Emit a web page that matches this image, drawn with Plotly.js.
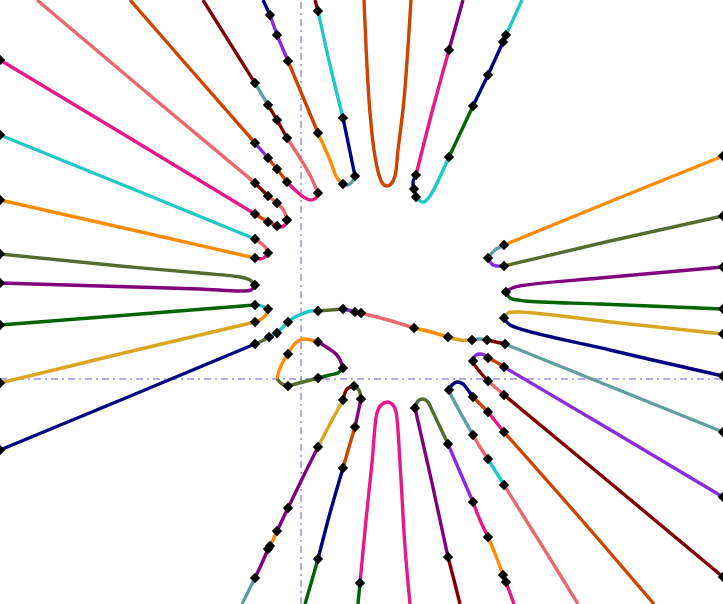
<!DOCTYPE html>
<html><head><meta charset="utf-8">
<script src="https://cdn.plot.ly/plotly-3.0.1.min.js"></script>
<style>html,body{margin:0;padding:0;background:#fff;overflow:hidden}#chart{width:723px;height:604px}</style>
</head><body><div id="chart"></div>
<script>
// Branch data: each branch is a list of coloured pieces (x list, y list, colour name)
const A_x = [[-301,-181,-101,-61,-51,-46],[-46,-50,-61,-101,-201,-301]];
const A_y = [[125,113,106,102,99,94],[94,89,88,90,93,96]];
const A_c = ['olive','purple'];

const B_x = [[-301,-173,-46],[-46,-39,-35,-33],[-33,-36,-41,-46],[-46,-173,-301]];
const B_y = [[244,192,140],[140,135,131,126],[126,122,120,121],[121,150,179]];
const B_c = ['cyan','salmon','pink','orange'];

const C_x = [[-264,-155,-46],[-46,-33],[-33,-24],[-24,-17,-14],[-14,-16,-20,-24],[-24,-33],[-33,-46],[-46,-173,-301]];
const C_y = [[379,287,196],[196,183],[183,176],[176,168,159],[159,154,152,153],[153,157],[157,165],[165,242,319]];
const C_c = ['salmon','maroon','salmon','salmon','pink','rust','rust','pink'];

const D_x = [[-171,-109,-46],[-46,-33],[-33,-24],[-24,-14],[-14,-6,1,9,15,17],[17,9,-1,-14],[-14,-24],[-24,-33],[-33,-46],[-46,-98]];
const D_y = [[379,308,236],[236,221],[221,210],[210,197],[197,189,183,179,181,186],[186,204,221,241],[241,259],[259,274],[274,296],[296,379]];
const D_c = ['rust','violet','rust','rust','pink','salmon','maroon','maroon','cadet','maroon'];

const E_x = [[-38,-31],[-31,-24],[-24,-13],[-13,2,17],[17,29,36,42],[42,47,51,54],[54,48,42],[42,29,17],[17,14]];
const E_y = [[379,364],[364,344],[344,318],[318,282,246],[246,219,201,195],[195,194,197,203],[203,232,261],[261,314,368],[368,379]];
const E_c = ['navy','violet','violet','rust','orange','cadet','navy','cyan','maroon'];

const F_x = [[63,68,73,78,82,86,90,94,97,103,110]];
const F_y = [[379,279,229,204,195,193,195,203,229,279,379]];
const F_c = ['rust'];

const G_x = [[162,148],[148,131,115],[115,112,113],[113,115],[115,119,123,129,148],[148,172],[172,187],[187,202],[202,205],[205,221]];
const G_y = [[379,329],[329,267,204],[204,197,190],[190,182],[182,178,177,183,222],[222,273],[273,304],[304,337],[337,344],[344,379]];
const G_c = ['purple','pink','navy','cadet','cyan','green','navy','navy','navy','cyan'];

const H_x = [[422,313,203],[203,194,187],[187,192,203],[203,309,422]];
const H_y = [[223,179,134],[134,129,121],[121,114,113],[113,138,163]];
const H_c = ['orange','cadet','violet','olive'];

const I_x = [[422,299,214,205],[205,209,224,299,422]];
const I_y = [[112,101,92,87],[87,81,78,75,70]];
const I_c = ['purple','green'];

const J_x = [[422,319,219,207,203],[203,209,309,422]];
const J_y = [[45,56,67,66,61],[61,54,29,3]];
const J_c = ['gold','navy'];

const W_x = [[-301,-173,-46],[-46,-39,-32],[-32,-24],[-24,-18,-13],[-13,-6,1,9,17],[17,42],[42,51,54],[54,60],[60,87,113],[113,130,147],[147,159,171],[171,179,186],[186,195,204],[204,313,422]];
const W_y = [[-71,-18,35],[35,38,42],[42,46],[46,52,57],[57,62,65,68,68],[68,70],[70,68,67],[67,66],[66,59,51],[51,47,42],[42,39,39],[39,40,39],[39,37,35],[35,-9,-53]];
const W_c = ['navy','olive','cyan','cyan','cyan','olive','violet','violet','salmon','orange','gold','cadet','maroon','cadet'];

const K_x = [[-301,-173,-46],[-46,-39,-33],[-33,-36,-41,-46],[-46,-173,-301]];
const K_y = [[54,64,74],[74,73,70],[70,63,59,57],[57,27,-4]];
const K_c = ['green','cyan','orange','gold'];

const S_x = [[-24,-21,-17,-13],[-13,-8,-3,3,10,17],[17,27,35,39,42],[42,37,29,17],[17,2,-13],[-13,-19,-24]];
const S_y = [[0,11,19,25],[25,33,38,40,39,37],[37,31,25,19,11],[11,6,4,1],[1,-3,-7],[-7,-5,0]];
const S_c = ['orange','orange','purple','green','olive','olive'];

const L_x = [[-59,-53,-46],[-46,-39,-33],[-33,-31],[-31,-28,-24],[-24,-13],[-13,2,17],[17,29,42],[42,46,53],[53,58,60],[60,57,54],[54,48,42],[42,29,17],[17,11,4]];
const L_y = [[-225,-213,-199],[-199,-184,-170],[-170,-167],[-167,-161,-152],[-152,-129],[-129,-98,-68],[-68,-45,-21],[-21,-10,-7],[-7,-11,-20],[-20,-34,-48],[-48,-68,-89],[-89,-134,-180],[-180,-201,-225]];
const L_c = ['cadet','purple','purple','orange','purple','purple','gold','maroon','olive','purple','rust','navy','green'];

const M_x = [[57,59],[59,65,71,76,80,86,92,95,99,104,109]];
const M_y = [[-225,-204],[-204,-141,-84,-34,-26,-23,-26,-33,-84,-168,-225]];
const M_c = ['green','pink'];

const N_x = [[159,153,147],[147,131,114],[114,117,122,127,131,139,147],[147,159,172],[172,179,187],[187,195,202],[202,205],[205,209,213]];
const N_y = [[-225,-201,-178],[-178,-104,-29],[-29,-22,-20,-23,-31,-48,-65],[-65,-93,-123],[-123,-141,-158],[-158,-177,-196],[-196,-203],[-203,-214,-225]];
const N_c = ['maroon','purple','olive','violet','pink','orange','pink','pink'];

const O_x = [[277,240,203],[203,195,187],[187,179,172],[172,159,150,148],[148,151,156,162,167,172],[172,179,187],[187,195,203],[203,279,353]];
const O_y = [[-225,-165,-106],[-106,-93,-80],[-80,-68,-56],[-56,-33,-16,-11],[-11,-6,-3,-5,-11,-18],[-18,-25,-33],[-33,-43,-53],[-53,-139,-225]];
const O_c = ['salmon','cyan','salmon','cadet','navy','rust','pink','rust'];

const P_x = [[422,313,203],[203,195,187],[187,179,173,172],[172,175,180,185,187],[187,195,203],[203,313,422]];
const P_y = [[-198,-107,-16],[-16,-9,-2],[-2,7,15,18],[18,24,25,23,21],[21,17,12],[12,-53,-118]];
const P_c = ['maroon','salmon','maroon','violet','rust','violet'];

const X_RANGE = [-301, 422];
const Y_RANGE = [-225, 379];

const palette = {
  purple:'#800080', olive:'#556b2f', orange:'#ff8c00', pink:'#e8178a', cyan:'#1ec8c8',
  salmon:'#e8686e', rust:'#cc4400', maroon:'#800000', cadet:'#5f9ea0', navy:'#000080',
  violet:'#8a2be2', green:'#006400', gold:'#daa520'
};

const branches = [
  [A_x,A_y,A_c],[B_x,B_y,B_c],[C_x,C_y,C_c],[D_x,D_y,D_c],[E_x,E_y,E_c],[F_x,F_y,F_c],
  [G_x,G_y,G_c],[H_x,H_y,H_c],[I_x,I_y,I_c],[J_x,J_y,J_c],[W_x,W_y,W_c],[K_x,K_y,K_c],
  [S_x,S_y,S_c],[L_x,L_y,L_c],[M_x,M_y,M_c],[N_x,N_y,N_c],[O_x,O_y,O_c],[P_x,P_y,P_c]
];

const traces = [];
const mx = [], my = [];
branches.forEach(([bx, by, bc]) => {
  bx.forEach((xs, i) => {
    traces.push({
      x: xs, y: by[i], type: 'scatter', mode: 'lines',
      line: {color: palette[bc[i]], width: 3.4, shape: 'spline', smoothing: 0.9},
      hoverinfo: 'skip'
    });
    if (i > 0) { mx.push(xs[0]); my.push(by[i][0]); }
  });
  const n = bx.length;
  const ends = [[bx[0][0], by[0][0]], [bx[n-1][bx[n-1].length-1], by[n-1][by[n-1].length-1]]];
  ends.forEach(([ex, ey]) => {
    if (ex <= X_RANGE[0] || ex >= X_RANGE[1]) { mx.push(ex); my.push(ey); }
  });
});
traces.push({
  x: mx, y: my, type: 'scatter', mode: 'markers',
  marker: {symbol: 'diamond', size: 8, color: '#000000'}, hoverinfo: 'skip'
});

const layout = {
  width: 723, height: 604,
  margin: {l: 0, r: 0, t: 0, b: 0, pad: 0},
  paper_bgcolor: '#ffffff', plot_bgcolor: '#ffffff',
  showlegend: false,
  xaxis: {range: X_RANGE, visible: false, showgrid: false, zeroline: false, fixedrange: true},
  yaxis: {range: Y_RANGE, visible: false, showgrid: false, zeroline: false, fixedrange: true},
  shapes: [
    {type: 'line', xref: 'x', yref: 'paper', x0: 0, x1: 0, y0: 0, y1: 1, layer: 'below',
     line: {color: '#6a5acd', width: 1, dash: '7px,4px,2px,4px'}},
    {type: 'line', xref: 'paper', yref: 'y', x0: 0, x1: 1, y0: 0, y1: 0, layer: 'below',
     line: {color: '#6a5acd', width: 1, dash: '7px,4px,2px,4px'}}
  ]
};

Plotly.newPlot('chart', traces, layout, {displayModeBar: false, staticPlot: true});
</script>
</body></html>
